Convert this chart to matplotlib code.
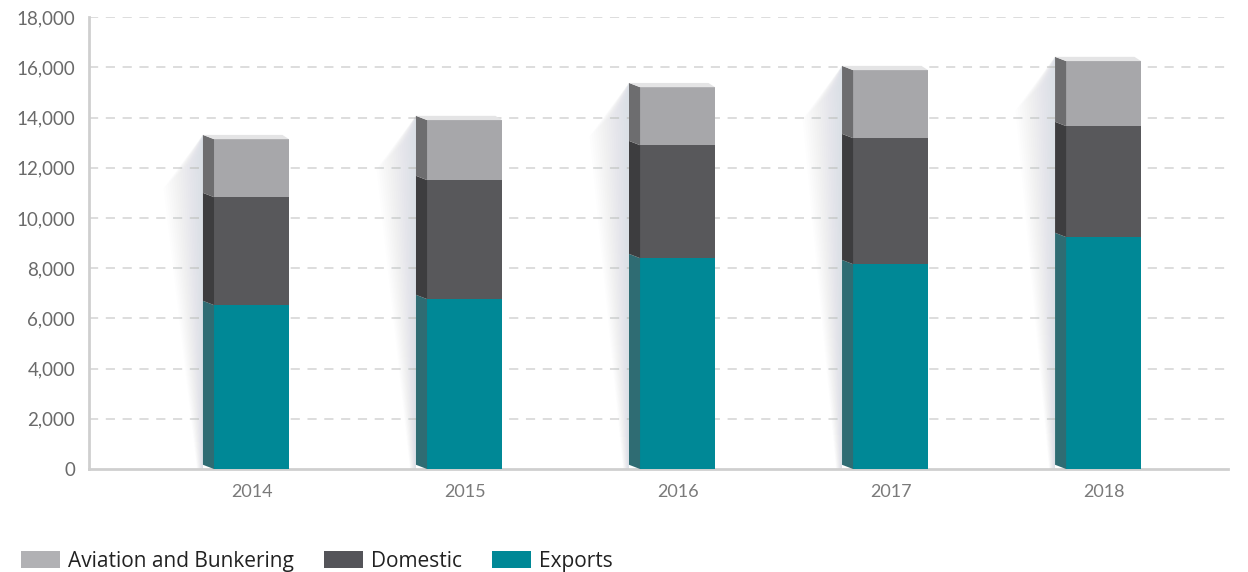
import numpy as np
import matplotlib.pyplot as plt
from matplotlib.patches import Polygon, Patch

# data
years = ['2014', '2015', '2016', '2017', '2018']
exports = [6530, 6770, 8400, 8160, 9240]
domestic = [4300, 4740, 4500, 5020, 4420]
aviation = [2310, 2390, 2310, 2710, 2590]

series_names = ['Exports', 'Domestic', 'Aviation and Bunkering']
front_cols = ['#008896', '#58585b', '#a7a7aa']
side_cols = ['#2f6c73', '#3d3d3f', '#6d6d6f']
top_col = '#e4e4e5'

plt.rcParams['font.family'] = ['Lato', 'DejaVu Sans']

fig = plt.figure(figsize=(12.48, 5.72), dpi=100)
ax = fig.add_axes([0.0713, 0.180, 0.9127, 0.790])

x = np.arange(len(years))
w = 0.352
dx = 0.052   # depth of the fake 3d side, in x units
dy = 170     # depth of the fake 3d side, in y units

# soft shadow to the left of each bar
for i in range(len(years)):
    total = exports[i] + domestic[i] + aviation[i]
    xe = x[i] - w/2 - dx
    for k in range(18):
        off = 0.015 + k * 0.01
        poly = Polygon([(xe - off*0.15, 0), (xe, 0), (xe, total + dy),
                        (xe - off, total - 600 - k*80)],
                       closed=True, facecolor='#9aa6b2', edgecolor='none', alpha=0.016, zorder=1)
        ax.add_patch(poly)

bottoms = np.zeros(len(years))
layers = [exports, domestic, aviation]
for vals, fc, sc, name in zip(layers, front_cols, side_cols, series_names):
    vals = np.array(vals)
    ax.bar(x, vals, width=w, bottom=bottoms, color=fc, edgecolor='none', label=name, zorder=3)
    for i in range(len(years)):
        x0 = x[i] - w/2
        y0 = bottoms[i]
        y1 = bottoms[i] + vals[i]
        side = Polygon([(x0, y0), (x0, y1), (x0 - dx, y1 + dy), (x0 - dx, y0 + dy)],
                       closed=True, facecolor=sc, edgecolor='none', zorder=3)
        ax.add_patch(side)
    bottoms = bottoms + vals

# top faces
for i in range(len(years)):
    x0 = x[i] - w/2
    top = bottoms[i]
    face = Polygon([(x0, top), (x0 - dx, top + dy), (x0 + w - dx*0.6, top + dy), (x0 + w, top)],
                   closed=True, facecolor=top_col, edgecolor='none', zorder=3)
    ax.add_patch(face)

ax.set_xlim(-0.763, 4.584)
ax.set_ylim(0, 18000)
ax.set_yticks(np.arange(0, 18001, 2000))
ax.set_yticklabels([f'{v:,}' for v in range(0, 18001, 2000)])
ax.set_xticks(x)
ax.set_xticklabels(years)

for v in range(2000, 18001, 2000):
    ax.axhline(v, color='#d3d3d3', lw=1.1, ls=(0, (6, 5)), zorder=0)

for s in ['top', 'right']:
    ax.spines[s].set_visible(False)
for s in ['left', 'bottom']:
    ax.spines[s].set_color('#cfcfcf')
    ax.spines[s].set_linewidth(2)
ax.spines['bottom'].set_zorder(2)

ax.tick_params(axis='y', length=0, pad=10, labelsize=13.5, labelcolor='#6a6a6a')
ax.tick_params(axis='x', length=0, pad=11, labelsize=13, labelcolor='#7a7a7a')

lab = ['Aviation and Bunkering', 'Domestic', 'Exports']
leg_cols = ['#b1b1b4', '#545459', '#008896']
ph = [Patch(facecolor=c, edgecolor='none') for c in leg_cols]
fig.legend(ph, lab, loc='lower left', bbox_to_anchor=(0.002, -0.032), ncol=3, frameon=False,
           handlelength=1.85, handleheight=0.85, handletextpad=0.4,
           columnspacing=1.45, labelcolor='#222222', prop={'family': ['Open Sans'], 'size': 15})

fig.savefig('out.png', dpi=100)
